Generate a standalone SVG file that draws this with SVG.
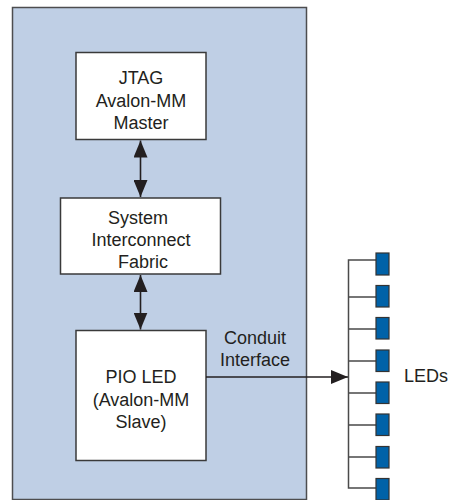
<svg xmlns="http://www.w3.org/2000/svg" width="451" height="500" viewBox="0 0 451 500">
<style>
.box{fill:#ffffff;stroke:#3a3a3a;stroke-width:1.5}
.t{font-family:"Liberation Sans",Arial,sans-serif;font-size:18px;fill:#231f20;text-anchor:middle}
.ln{stroke:#231f20;stroke-width:1.6;fill:none}
.bus{stroke:#4a4a4a;stroke-width:1.5;fill:none}
.led{fill:#0062a8;stroke:#333333;stroke-width:1.2}
</style>
<defs>
<marker id="ah" viewBox="0 0 17 14" refX="17" refY="7" markerWidth="17" markerHeight="14" markerUnits="userSpaceOnUse" orient="auto-start-reverse">
<path d="M0,0 L17,7 L0,14 Z" fill="#231f20"/>
</marker>
</defs>
<g id="container">
<rect x="12.5" y="7.5" width="294" height="492" fill="#bfcfe5" stroke="#4d4d4f" stroke-width="1.5"/>
</g>
<g id="jtag">
<rect class="box" x="76" y="52.5" width="130" height="87"/>
<text class="t" x="141" y="84">JTAG</text>
<text class="t" x="141" y="106.5">Avalon-MM</text>
<text class="t" x="141" y="129">Master</text>
</g>
<g id="fabric">
<rect class="box" x="60.5" y="198" width="160" height="76"/>
<text class="t" x="138" y="223.5">System</text>
<text class="t" x="141" y="246">Interconnect</text>
<text class="t" x="143" y="268">Fabric</text>
</g>
<g id="pio">
<rect class="box" x="76" y="330.5" width="130" height="130"/>
<text class="t" x="141" y="383">PIO LED</text>
<text class="t" x="141" y="405.5">(Avalon-MM</text>
<text class="t" x="141" y="428">Slave)</text>
</g>
<g id="conduit-label">
<text class="t" x="255" y="343.5">Conduit</text>
<text class="t" x="255" y="366">Interface</text>
</g>
<g id="leds-label">
<text class="t" x="404" y="382" style="text-anchor:start">LEDs</text>
</g>
<g id="connectors">
<line class="ln" x1="140.5" y1="140.5" x2="140.5" y2="197" marker-start="url(#ah)" marker-end="url(#ah)"/>
<line class="ln" x1="140.5" y1="275" x2="140.5" y2="329.5" marker-start="url(#ah)" marker-end="url(#ah)"/>
<line class="ln" x1="206" y1="377" x2="348" y2="377" marker-end="url(#ah)"/>
<path class="bus" d="M376,260 H348.5 V488 H376 M348.5,297 H376 M348.5,329 H376 M348.5,361 H376 M348.5,393 H376 M348.5,425 H376 M348.5,457 H376"/>
</g>
<g id="leds">
<rect class="led" x="376" y="253" width="13" height="22"/>
<rect class="led" x="376" y="285.5" width="13" height="21.5"/>
<rect class="led" x="376" y="317.5" width="13" height="21.5"/>
<rect class="led" x="376" y="350" width="13" height="21.5"/>
<rect class="led" x="376" y="382" width="13" height="21.5"/>
<rect class="led" x="376" y="414" width="13" height="21.5"/>
<rect class="led" x="376" y="446.5" width="13" height="21.5"/>
<rect class="led" x="376" y="478.5" width="13" height="21.5"/>
</g>
</svg>
